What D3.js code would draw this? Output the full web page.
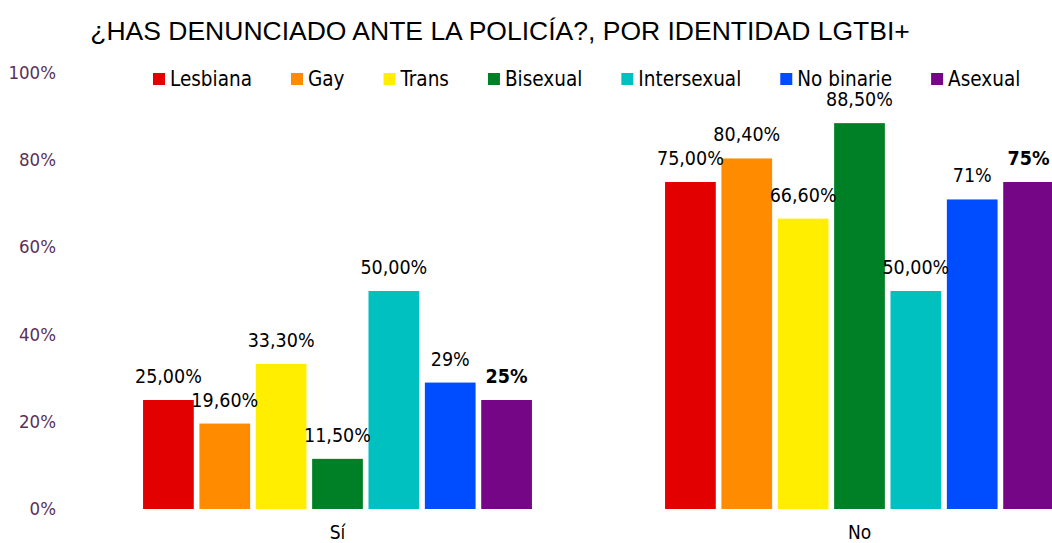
<!DOCTYPE html>
<html>
<head>
<meta charset="utf-8">
<script src="https://cdn.jsdelivr.net/npm/d3@7"></script>
<style>
  body { margin: 0; background: #fff; }
  svg { display: block; }
  text { font-family: "DejaVu Sans Condensed", "DejaVu Sans", sans-serif; }
</style>
</head>
<body>
<svg id="chart"></svg>
<script>
// chart data
const answers = ["Sí", "No"];
const identities = ["Lesbiana", "Gay", "Trans", "Bisexual", "Intersexual", "No binarie", "Asexual"];
const colors = ["#e30000", "#ff8c00", "#ffee00", "#008026", "#00c0c0", "#004dff", "#750787"];
const valuesSi = [25.0, 19.6, 33.3, 11.5, 50.0, 29, 25];
const valuesNo = [75.0, 80.4, 66.6, 88.5, 50.0, 71, 75];
const labelsSi = ["25,00%", "19,60%", "33,30%", "11,50%", "50,00%", "29%", "25%"];
const labelsNo = ["75,00%", "80,40%", "66,60%", "88,50%", "50,00%", "71%", "75%"];
const yTicks = [0, 20, 40, 60, 80, 100];

const WIDTH = 1052;
const HEIGHT = 543;

var svg = d3.select("#chart").attr("width", WIDTH).attr("height", HEIGHT);

// scales
var y = d3.scaleLinear().domain([0, 100]).range([509, 73]);

var x0 = d3
  .scaleBand()
  .domain(answers)
  .range([76.5, 1120.5])
  .paddingInner(0.255)
  .paddingOuter(0.1275);

var x1 = d3
  .scaleBand()
  .domain(identities)
  .range([0, x0.bandwidth()])
  .paddingInner(0.1);

var color = d3.scaleOrdinal().domain(identities).range(colors);

// flatten rows
var rows = [];
answers.forEach((a, i) => {
  var vals = i === 0 ? valuesSi : valuesNo;
  var labs = i === 0 ? labelsSi : labelsNo;
  identities.forEach((id, j) => {
    rows.push({ answer: a, identity: id, value: vals[j], label: labs[j] });
  });
});

// title
svg
  .append("text")
  .attr("x", 500)
  .attr("y", 40)
  .attr("text-anchor", "middle")
  .style("font-family", "'Liberation Sans', Arial, sans-serif")
  .style("font-size", "26.5px")
  .attr("fill", "#000")
  .text("¿HAS DENUNCIADO ANTE LA POLICÍA?, POR IDENTIDAD LGTBI+");

// y axis labels
svg
  .append("g")
  .selectAll("text")
  .data(yTicks)
  .enter()
  .append("text")
  .attr("x", 56)
  .attr("y", (d) => y(d) + 6)
  .attr("text-anchor", "end")
  .style("font-size", "18.5px")
  .attr("fill", "#5a3157")
  .text((d) => d + "%");

// bars
svg
  .append("g")
  .selectAll("rect")
  .data(rows)
  .enter()
  .append("rect")
  .attr("x", (d) => x0(d.answer) + x1(d.identity))
  .attr("y", (d) => y(d.value))
  .attr("width", x1.bandwidth())
  .attr("height", (d) => y(0) - y(d.value))
  .attr("fill", (d) => color(d.identity));

// value labels
svg
  .append("g")
  .selectAll("text")
  .data(rows)
  .enter()
  .append("text")
  .attr("x", (d) => x0(d.answer) + x1(d.identity) + x1.bandwidth() / 2)
  .attr("y", (d) => y(d.value) - 17)
  .attr("text-anchor", "middle")
  .style("font-size", "19.5px")
  .style("font-weight", (d) => (d.identity === "Asexual" ? "bold" : "normal"))
  .attr("fill", "#000")
  .text((d) => d.label);

// category labels
svg
  .append("g")
  .selectAll("text")
  .data(answers)
  .enter()
  .append("text")
  .attr("x", (d) => x0(d) + x0.bandwidth() / 2)
  .attr("y", 539)
  .attr("text-anchor", "middle")
  .style("font-size", "19px")
  .attr("fill", "#000")
  .text((d) => d);

// legend
var legend = svg.append("g").attr("transform", "translate(153,79)");
var lx = 0;
identities.forEach((id) => {
  var item = legend.append("g").attr("transform", "translate(" + lx + ",0)");
  item
    .append("rect")
    .attr("x", 0)
    .attr("y", -6)
    .attr("width", 12)
    .attr("height", 12)
    .attr("fill", color(id));
  var t = item
    .append("text")
    .attr("x", 17)
    .attr("y", 7)
    .style("font-size", "20.5px")
    .attr("fill", "#000")
    .text(id);
  lx += 17 + t.node().getComputedTextLength() + 39;
});
</script>
</body>
</html>
